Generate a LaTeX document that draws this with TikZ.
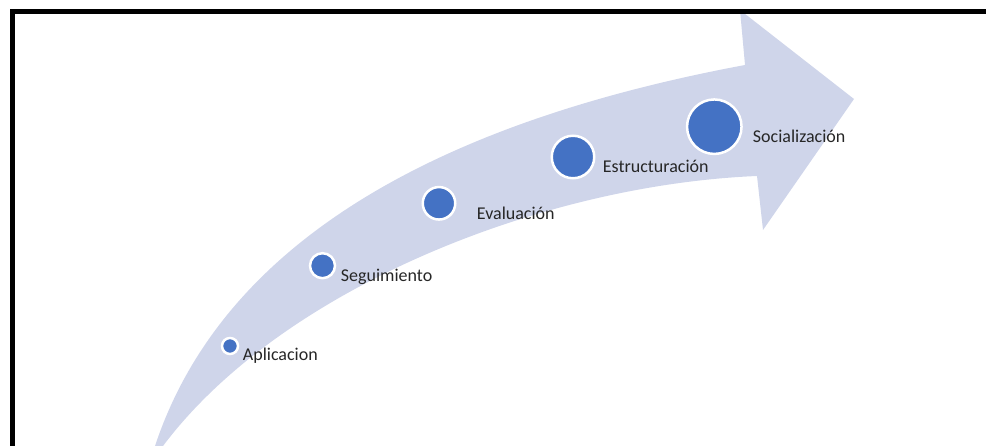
\documentclass[tikz,border=0pt]{standalone}
\usepackage{fontspec}
\setmainfont{Carlito}
\definecolor{bandcol}{HTML}{CFD5EA}
\definecolor{dotcol}{HTML}{4472C4}
\begin{document}
\begin{tikzpicture}[x=1pt,y=-1pt,
  dot/.style={circle,fill=dotcol,draw=white,line width=2.5pt,inner sep=0pt},
  lbl/.style={anchor=base west,inner sep=0pt,font=\fontsize{18}{21}\selectfont,text=black!85}]
\useasboundingbox (0,0) rectangle (986,446);
\clip (0,0) rectangle (986,446);
% curved arrow
\fill[bandcol] (148,466) -- (155,446)
  .. controls (225,235) and (450,120) .. (745,65)
  -- (740,10) -- (854,99) -- (763,230) -- (757,176)
  .. controls (540,185) and (280,290) .. (163,446) -- cycle;
% dots
\node[dot,minimum size=16pt] (c1) at (230,346) {};
\node[dot,minimum size=25pt] (c2) at (322.5,265.7) {};
\node[dot,minimum size=32.5pt] (c3) at (439,203.3) {};
\node[dot,minimum size=42.5pt] (c4) at (573,157) {};
\node[dot,minimum size=54.5pt] (c5) at (714.3,126.7) {};
% labels
\node[lbl] (t1) at (242.7,361) {Aplicacion};
\node[lbl] (t2) at (340.7,281.7) {Seguimiento};
\node[lbl] (t3) at (476.7,219.3) {Evaluación};
\node[lbl] (t4) at (602.7,172.7) {Estructuración};
\node[lbl] (t5) at (752.7,142.3) {Socialización};
% frame
\draw[line width=5pt] (12,470) -- (12,12) -- (1000,12);
\end{tikzpicture}
\end{document}
